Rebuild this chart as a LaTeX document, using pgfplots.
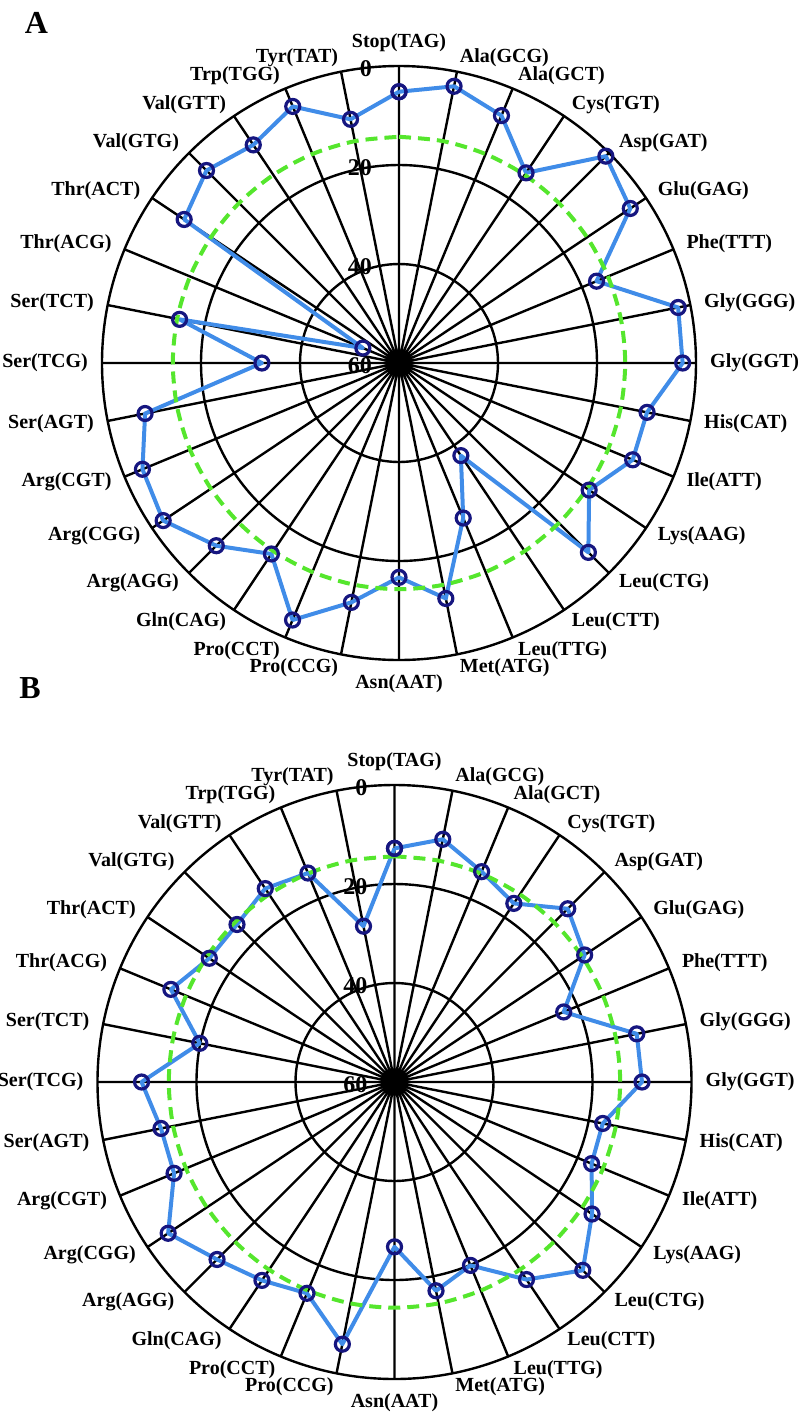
\documentclass[border=0pt]{standalone}
\usepackage{pgfplots}
\pgfplotsset{compat=1.18}
\usepackage{pgfplotstable}
\usepgfplotslibrary{polar}
\usetikzlibrary{calc}
\usepackage{fontspec}
\setmainfont{Liberation Serif}
\definecolor{lineblue}{RGB}{64,140,232}
\definecolor{marknavy}{RGB}{22,22,128}
\definecolor{meangreen}{RGB}{85,230,45}

\pgfplotstableread{
i v m
0 5.2 14.3
1 3.0 14.3
2 5.9 14.3
3 13.8 14.3
4 0.9 14.3
5 3.8 14.3
6 16.8 14.3
7 2.5 14.3
8 2.7 14.3
9 8.9 14.3
10 8.9 14.3
11 13.8 14.3
12 5.9 14.3
13 37.5 14.3
14 26.1 14.3
15 11.5 14.3
16 16.7 14.3
17 10.7 14.3
18 3.8 14.3
19 13.6 14.3
20 7.8 14.3
21 2.7 14.3
22 3.9 14.3
23 7.7 14.3
24 32.3 14.3
25 14.8 14.3
26 52.1 14.3
27 7.8 14.3
28 5.0 14.3
29 7.0 14.3
30 3.9 14.3
31 9.8 14.3
32 5.2 14.3
}\dataA

\pgfplotstableread{
i v m
0 12.8 14.4
1 10.0 14.4
2 14.0 14.4
3 16.6 14.4
4 10.5 14.4
5 13.8 14.4
6 23.0 14.4
7 10.1 14.4
8 10.0 14.4
9 17.1 14.4
10 16.9 14.4
11 12.0 14.4
12 6.2 14.4
13 12.0 14.4
14 19.9 14.4
15 17.0 14.4
16 26.7 14.4
17 6.0 14.4
18 13.8 14.4
19 11.8 14.4
20 9.3 14.4
21 5.0 14.4
22 11.8 14.4
23 11.9 14.4
24 8.9 14.4
25 19.9 14.4
26 11.1 14.4
27 15.0 14.4
28 15.0 14.4
29 13.0 14.4
30 14.3 14.4
31 27.9 14.4
32 12.8 14.4
}\dataB

\pgfplotsset{
  radar/.style={
    scale only axis, width=594pt, height=594pt,
    anchor=center,
    ymin=0, ymax=60,
    xtick={0,11.25,...,348.75},
    ytick={20,40},
    xticklabels={}, yticklabels={},
    grid=major,
    major grid style={black, line width=2.4pt},
    axis line style={black, line width=2.4pt},
    major tick length=0pt,
    clip=false,
  }
}

\newcommand{\catlist}{0/Stop(TAG),1/Ala(GCG),2/Ala(GCT),3/Cys(TGT),4/Asp(GAT),5/Glu(GAG),6/Phe(TTT),7/Gly(GGG),8/Gly(GGT),9/His(CAT),10/Ile(ATT),11/Lys(AAG),12/Leu(CTG),13/Leu(CTT),14/Leu(TTG),15/Met(ATG),16/Asn(AAT),17/Pro(CCG),18/Pro(CCT),19/Gln(CAG),20/Arg(AGG),21/Arg(CGG),22/Arg(CGT),23/Ser(AGT),24/Ser(TCG),25/Ser(TCT),26/Thr(ACG),27/Thr(ACT),28/Val(GTG),29/Val(GTT),30/Trp(TGG),31/Tyr(TAT)}

\newcommand{\radarlabels}[2]{%
  \foreach \k/\t in \catlist {%
    \pgfmathsetmacro\ang{90-11.25*\k}%
    \ifnum\k=0 \def\anc{south}\else\ifnum\k=16 \def\anc{north}\else\ifnum\k<16 \def\anc{west}\else\def\anc{east}\fi\fi\fi
    \node[anchor=\anc, inner sep=0pt, font=\bfseries\fontsize{20pt}{24pt}\selectfont] at ($(#1,#2)+(\ang:311pt)$) {\t};
  }%
  \foreach \r/\t in {0/60,99/40,198/20,297/0} {%
    \node[anchor=east, inner sep=0pt, font=\bfseries\fontsize{24pt}{28pt}\selectfont] at ($(#1,#2)+(-27pt,\r pt-3pt)$) {\t};
  }%
}

\newcommand{\radarplots}[1]{%
  \addplot[lineblue, line width=4pt, line join=round] table[x expr={90-11.25*\thisrow{i}}, y expr={60-\thisrow{v}}] {#1};
  \addplot[meangreen, line width=4pt, dash pattern=on 12pt off 7pt, smooth] table[x expr={90-11.25*\thisrow{i}}, y expr={60-\thisrow{m}}] {#1};
  \addplot[only marks, line width=3.2pt, mark=o, mark size=7pt, mark options={draw=marknavy, line width=3.2pt, solid}] table[x expr={90-11.25*\thisrow{i}}, y expr={60-\thisrow{v}}] {#1};
}

\begin{document}
\begin{tikzpicture}
\useasboundingbox (0pt,0pt) rectangle (799pt,-1416pt);

\begin{polaraxis}[radar, at={(399pt,-363pt)}]
\radarplots{\dataA}
\end{polaraxis}

\begin{polaraxis}[radar, at={(394.5pt,-1082pt)}]
\radarplots{\dataB}
\end{polaraxis}

\radarlabels{399pt}{-363pt}
\radarlabels{394.5pt}{-1082pt}

\node[font=\bfseries\fontsize{32pt}{36pt}\selectfont] at (36.5pt,-22.5pt) {A};
\node[font=\bfseries\fontsize{32pt}{36pt}\selectfont] at (30pt,-688pt) {B};
\end{tikzpicture}
\end{document}
